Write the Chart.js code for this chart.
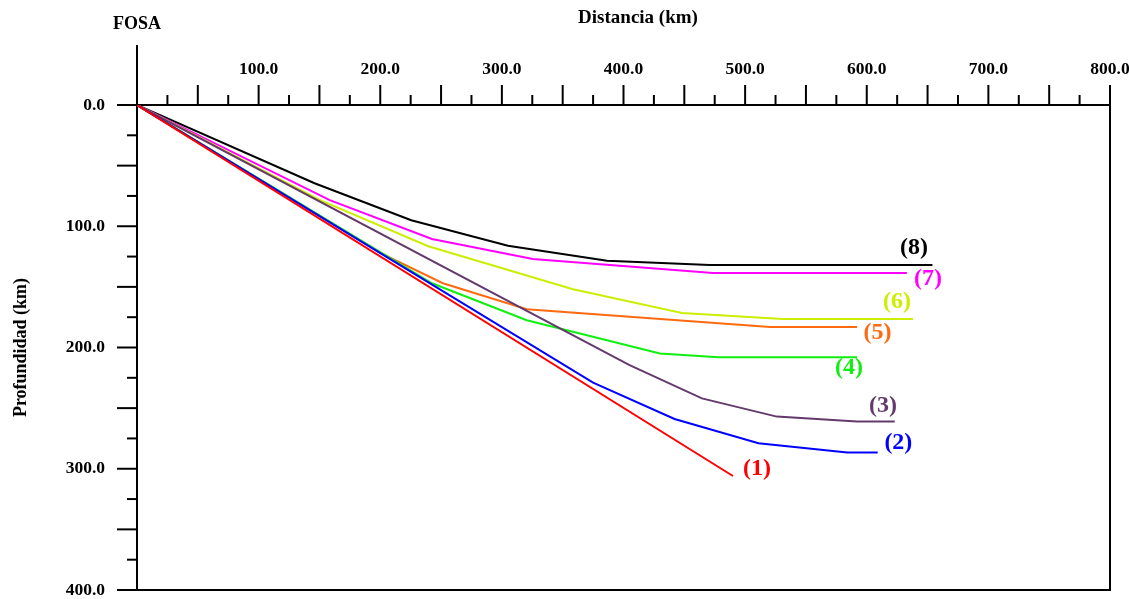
<!DOCTYPE html>
<html><head><meta charset="utf-8">
<script src="https://cdn.jsdelivr.net/npm/chart.js@4"></script>
<style>html,body{margin:0;padding:0;background:#fff;} #wrap{width:1129px;height:599px;position:relative;}</style>
</head><body><div id="wrap"><canvas id="c"></canvas></div>
<script>
// ---- data (distance km, depth km) ----
const seriesNames = ['(1)','(2)','(3)','(4)','(5)','(6)','(7)','(8)'];
const dist1 = [0, 490];                                const prof1 = [0, 306];
const dist2 = [0, 375, 442, 511, 584, 609];            const prof2 = [0, 229, 259, 279, 286.5, 286.5];
const dist3 = [0, 405, 464.5, 526, 592, 623];          const prof3 = [0, 214.5, 242, 257, 261, 261];
const dist4 = [0, 242.5, 320.5, 430, 478, 592];        const prof4 = [0, 147, 177.5, 205, 208, 208];
const dist5 = [0, 200, 251.5, 320.5, 520.5, 592];      const prof5 = [0, 122, 147, 168.5, 183, 183];
const dist6 = [0, 150.5, 239.5, 358.5, 448, 531, 638]; const prof6 = [0, 78.5, 116.5, 152, 171.5, 176.5, 176.5];
const dist7 = [0, 158.5, 242.5, 325.5, 473.5, 633];    const prof7 = [0, 78.5, 110.5, 127, 138.5, 138.5];
const dist8 = [0, 146, 225.5, 305, 386.5, 471, 654];   const prof8 = [0, 64.5, 95, 116, 128.5, 132, 132];
const xTickLabels = ['100.0','200.0','300.0','400.0','500.0','600.0','700.0','800.0'];
const yTickLabels = ['0.0','100.0','200.0','300.0','400.0'];
// label anchors (data coords)
const labelDist = [509.7, 626, 613.3, 585.4, 608.8, 624.8, 650.3, 638.8];
const labelProf = [299.7, 278.2, 247.7, 217.1, 188.2, 162.6, 143.6, 118];

const colors = ['#ff0000','#0000ff','#633a6b','#11ee11','#ff6a10','#ccee00','#ff00ff','#000000'];
const dists = [dist1,dist2,dist3,dist4,dist5,dist6,dist7,dist8];
const profs = [prof1,prof2,prof3,prof4,prof5,prof6,prof7,prof8];

const datasets = dists.map((d,i)=>({
  label: seriesNames[i],
  data: d.map((x,j)=>({x:x, y:profs[i][j]})),
  borderColor: colors[i], backgroundColor: colors[i],
  borderWidth: 2, pointRadius: 0, tension: 0, fill:false
}));

const FONT = 'Liberation Serif';
const frame = {
  id:'frame',
  beforeDatasetsDraw(chart){
    const {ctx, scales:{x,y}} = chart;
    const x0 = x.getPixelForValue(0), x1 = x.getPixelForValue(800);
    const y0 = y.getPixelForValue(0), y1 = y.getPixelForValue(400);
    ctx.save();
    ctx.strokeStyle = '#000'; ctx.lineWidth = 2; ctx.lineCap='butt';
    const ln=(a,b,c,d)=>{ctx.beginPath();ctx.moveTo(a,b);ctx.lineTo(c,d);ctx.stroke();};
    ln(x0-20, y0, x1+1, y0);
    ln(x0, y0-60, x0, y1+1);
    ln(x1, y0, x1, y1+1);
    ln(x0, y1, x1+1, y1);
    x.ticks.forEach(t=>{ if(t.value===0) return; const px=x.getPixelForValue(t.value); const len=(t.value%50===0)?20:10; ln(px,y0,px,y0-len);});
    y.ticks.forEach(t=>{ if(t.value===0) return; const py=y.getPixelForValue(t.value); const len=(t.value%50===0)?20:10; ln(x0,py,x0-len,py);});
    ctx.restore();
  },
  afterDraw(chart){
    const {ctx, scales:{x,y}} = chart;
    ctx.save();
    ctx.fillStyle='#000';
    ctx.textAlign='center'; ctx.textBaseline='middle';
    ctx.font = 'bold 19px "'+FONT+'"';
    ctx.fillText('Distancia (km)', 638, 18);
    ctx.font = 'bold 18px "'+FONT+'"';
    ctx.fillText('FOSA', 137, 24);
    ctx.font = 'bold 24px "'+FONT+'"';
    seriesNames.forEach((n,i)=>{
      ctx.fillStyle = colors[i];
      ctx.fillText(n, x.getPixelForValue(labelDist[i]), y.getPixelForValue(labelProf[i]));
    });
    ctx.restore();
  }
};

new Chart(document.getElementById('c'), {
  type:'line',
  data:{datasets},
  plugins:[frame],
  options:{
    responsive:true, maintainAspectRatio:false, animation:false,
    layout:{padding:{top:0,left:0,right:19,bottom:9}},
    plugins:{legend:{display:false}, tooltip:{enabled:false}},
    scales:{
      x:{type:'linear', position:'top', min:0, max:800,
         border:{display:false}, grid:{display:false, drawTicks:false},
         ticks:{stepSize:25, autoSkip:false, maxRotation:0, padding:25, color:'#000',
           font:{family:FONT, weight:'bold', size:17.5},
           callback:(v)=> (v%100===0 && v>0) ? xTickLabels[v/100-1] : ''},
         afterFit:(s)=>{ s.height=105; s.paddingLeft=0; s.paddingRight=0; }
      },
      y:{type:'linear', position:'left', reverse:true, min:0, max:400,
         border:{display:false}, grid:{display:false, drawTicks:false},
         ticks:{stepSize:25, autoSkip:false, padding:32, color:'#000',
           font:{family:FONT, weight:'bold', size:17.5},
           callback:(v)=> (v%100===0) ? yTickLabels[v/100] : ''},
         title:{display:true, text:'Profundidad (km)', color:'#000', padding:{top:11,bottom:0},
           font:{family:FONT, weight:'bold', size:18}},
         afterFit:(s)=>{ s.width=137; s.paddingTop=0; s.paddingBottom=0; }
      }
    }
  }
});
</script></body></html>
